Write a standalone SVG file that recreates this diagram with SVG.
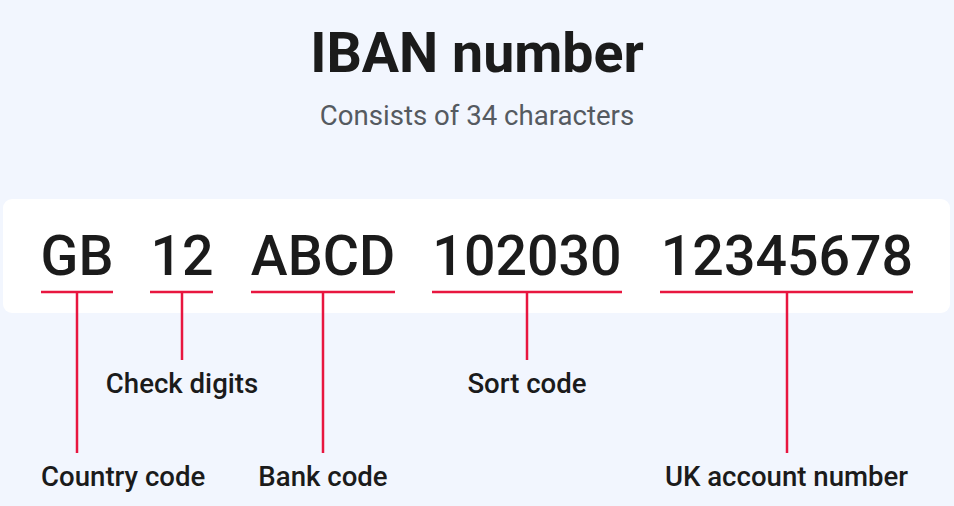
<svg xmlns="http://www.w3.org/2000/svg" width="954" height="506" viewBox="0 0 954 506">
<style>
.title{font-family:Roboto,"Liberation Sans",sans-serif;font-weight:700;font-size:55.5px;fill:#1b1b1b;text-anchor:middle}
.sub{font-family:Roboto,"Liberation Sans",sans-serif;font-weight:400;font-size:27.6px;fill:#555a60;text-anchor:middle}
.code{font-family:Roboto,"Liberation Sans",sans-serif;font-weight:500;font-size:55.5px;fill:#1b1b1b;text-anchor:middle}
.lbl{font-family:Roboto,"Liberation Sans",sans-serif;font-weight:500;font-size:27.6px;fill:#1b1b1b;text-anchor:middle}
.ln{stroke:#e8163f;stroke-width:2.5;fill:none}
</style>
<rect width="954" height="506" fill="#f2f6fe"/>
<text class="title" x="477" y="72">IBAN number</text>
<text class="sub" x="477" y="125">Consists of 34 characters</text>
<rect x="3" y="199" width="947" height="114" rx="9" fill="#ffffff"/>
<g id="country"><text class="code" x="77" y="275">GB</text><text class="lbl" x="41" y="486" style="text-anchor:start">Country code</text></g>
<g id="check"><text class="code" x="182" y="275">12</text><text class="lbl" x="182" y="393">Check digits</text></g>
<g id="bank"><text class="code" x="323" y="275">ABCD</text><text class="lbl" x="323" y="486">Bank code</text></g>
<g id="sort"><text class="code" x="527" y="275">102030</text><text class="lbl" x="527" y="393">Sort code</text></g>
<g id="account"><text class="code" x="787" y="275">12345678</text><text class="lbl" x="786.5" y="486">UK account number</text></g>
<g id="connectors" class="ln">
<line x1="41" y1="292" x2="113" y2="292"/><line x1="77" y1="292" x2="77" y2="453"/>
<line x1="150" y1="292" x2="213" y2="292"/><line x1="182" y1="292" x2="182" y2="360"/>
<line x1="251" y1="292" x2="395" y2="292"/><line x1="323" y1="292" x2="323" y2="453"/>
<line x1="432" y1="292" x2="622" y2="292"/><line x1="527" y1="292" x2="527" y2="360"/>
<line x1="660" y1="292" x2="913" y2="292"/><line x1="787" y1="292" x2="787" y2="453"/>
</g>
</svg>
